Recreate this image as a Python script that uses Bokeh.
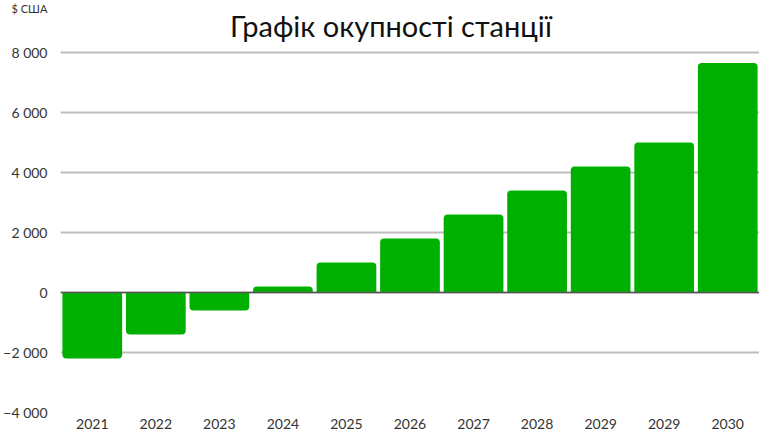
from bokeh.plotting import figure
from bokeh.models import FixedTicker, Span, Label
from bokeh.embed import file_html
from bokeh.resources import INLINE

years = ["2021", "2022", "2023", "2024", "2025", "2026", "2027", "2028", "2029", "2029", "2030"]
values = [-2200, -1400, -600, 200, 1000, 1800, 2600, 3400, 4200, 5000, 7650]
y_ticks = [-4000, -2000, 0, 2000, 4000, 6000, 8000]
y_tick_labels = ["\u22124 000", "\u22122 000", "0", "2 000", "4 000", "6 000", "8 000"]
title_text = "Графік окупності станції"
unit_text = "$ США"

FONT = "Lato"
GREEN = "#00b000"

p = figure(frame_width=699, frame_height=399, output_backend="svg", toolbar_location=None,
           x_range=(-0.5, len(years) - 0.5), y_range=(-4000, 9300),
           min_border_left=53, min_border_right=0, min_border_top=0, min_border_bottom=20)
p.outline_line_color = None
p.background_fill_color = "white"
p.border_fill_color = "white"

xs = list(range(len(years)))
pos_x = [x for x, v in zip(xs, values) if v >= 0]
pos_v = [v for v in values if v >= 0]
neg_x = [x for x, v in zip(xs, values) if v < 0]
neg_v = [v for v in values if v < 0]

p.vbar(x=pos_x, top=pos_v, bottom=0, width=0.94, fill_color=GREEN, line_color=None,
       border_radius=(4, 4, 0, 0))
p.vbar(x=neg_x, top=0, bottom=neg_v, width=0.94, fill_color=GREEN, line_color=None,
       border_radius=(0, 0, 4, 4))

p.add_layout(Span(location=0, dimension="width", line_color="#555555", line_width=1.5))

p.xaxis.ticker = FixedTicker(ticks=xs)
p.xaxis.major_label_overrides = {x: y for x, y in zip(xs, years)}
p.yaxis.ticker = FixedTicker(ticks=y_ticks)
p.yaxis.major_label_overrides = {t: l for t, l in zip(y_ticks, y_tick_labels)}
for ax in (p.xaxis, p.yaxis):
    ax.axis_line_color = None
    ax.major_tick_line_color = None
    ax.minor_tick_line_color = None
    ax.major_tick_out = 0
    ax.major_tick_in = 0
    ax.major_label_text_font = FONT
    ax.major_label_text_font_size = "14px"
    ax.major_label_text_color = "#333333"
p.yaxis.major_label_standoff = 13
p.xaxis.major_label_standoff = 6

p.xgrid.grid_line_color = None
p.ygrid.grid_line_color = "#bdbdbd"
p.ygrid.grid_line_width = 2

# unit label in the panel above the frame, left of the plot area
p.title.text = unit_text
p.title.align = "left"
p.title.offset = -49
p.title.text_font = FONT
p.title.text_font_size = "11px"
p.title.text_font_style = "normal"
p.title.text_color = "#333333"
p.title.standoff = -2

# main title inside the (extended) frame, centred on the chart
p.add_layout(Label(x=4.7, y=8000, y_offset=27, text=title_text, text_font=FONT,
                   text_font_size="29px", text_color="#111111", text_align="center",
                   text_baseline="alphabetic"))

open("out.html", "w").write(file_html(p, INLINE))
